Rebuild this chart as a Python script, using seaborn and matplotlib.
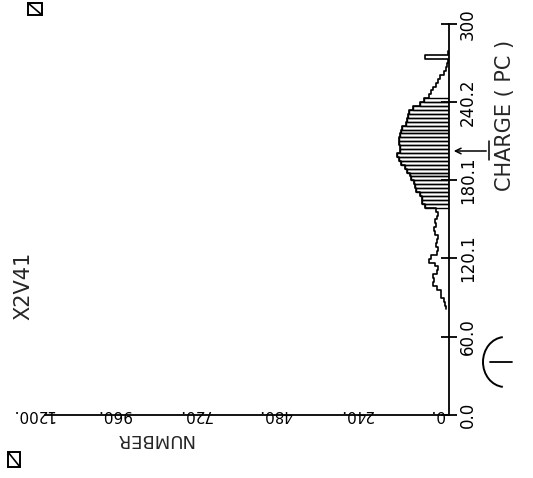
import numpy as np
import pandas as pd
import matplotlib
matplotlib.use("Agg")
import matplotlib.pyplot as plt
import seaborn as sns
from matplotlib import patches, lines, transforms

# ---------------- data ----------------
title_text = "X2V41"
number_label = "NUMBER"
charge_label = "CHARGE ( PC )"

charge_tick_pos = [0.0, 60.0, 120.1, 180.1, 240.2, 300.0]
charge_tick_lab = ["0.0", "60.0", "120.1", "180.1", "240.2", "300"]
number_tick_pos = [0, 240, 480, 720, 960, 1200]
number_tick_lab = ["0.", "240.", "480.", "720.", "960.", "1200."]

bin_width = 3.0
low_start = 81.0
low_counts = [9, 12, 15, 24, 24, 36, 48, 45, 48, 36, 33, 42, 60, 54,
              36, 33, 39, 36, 33, 42, 45, 39, 42, 36, 33, 39]
peak_counts = [72, 81, 81, 87, 99, 102, 105, 114, 117, 126, 132, 144, 150, 153,
               147, 147, 150, 150, 147, 144, 141, 129, 126, 123, 120, 108,
               87, 75]
tail_counts = [60, 54, 48, 40, 33, 26, 15, 9, 6, 4, 70, 3]

all_counts = low_counts + peak_counts + tail_counts
edges = low_start + bin_width * np.arange(len(all_counts) + 1)
centers = (edges[:-1] + edges[1:]) / 2
df = pd.DataFrame({"charge": centers, "count": all_counts})
n_low = len(low_counts)
n_peak = len(peak_counts)
peak_df = df.iloc[n_low:n_low + n_peak]
peak_edges = edges[n_low:n_low + n_peak + 1]

# ---------------- figure ----------------
sns.set_style("white")
plt.rcParams["font.family"] = ["DejaVu Sans"]
W, H = 533, 478
fig = plt.figure(figsize=(W / 100, H / 100), dpi=100)
fig.patch.set_facecolor("white")

L, R, B, T = 45, 449, 415, 24
ax = fig.add_axes([L / W, 1 - B / H, (R - L) / W, (B - T) / H])
ax.set_facecolor("white")

sns.histplot(data=df, y="charge", weights="count", bins=list(edges),
             element="step", fill=False, color="black", linewidth=1.2, ax=ax)
sns.histplot(data=peak_df, y="charge", weights="count", bins=list(peak_edges),
             element="bars", fill=False, color="black", linewidth=1.0, ax=ax)

ax.set_xlim(1200, 0)
ax.set_ylim(0, 300)
for s in ["top", "left"]:
    ax.spines[s].set_visible(False)
for s in ["bottom", "right"]:
    ax.spines[s].set_linewidth(1.3)
    ax.spines[s].set_color("black")

ax.yaxis.tick_right()
ax.set_yticks(charge_tick_pos)
ax.set_yticklabels(charge_tick_lab, rotation=90, va="center", ha="left",
                   fontsize=12)
ax.tick_params(axis="y", direction="inout", length=12, width=1.3, pad=1,
               colors="black")

ax.set_xticks(number_tick_pos)
ax.set_xticklabels(number_tick_lab, rotation=180, ha="center", va="bottom",
                   fontsize=11)
ax.tick_params(axis="x", direction="in", length=5, width=1.2, pad=5,
               colors="black")
off = transforms.ScaledTranslation(-12 / 100, 0, fig.dpi_scale_trans)
for lab in ax.get_xticklabels():
    lab.set_transform(lab.get_transform() + off)

ax.set_xlabel("")
ax.set_ylabel("")


def fx(x):
    return x / W


def fy(y):
    return 1 - y / H


fig.text(fx(23), fy(286), title_text, rotation=90, ha="center", va="center",
         fontsize=15)
fig.text(fx(154), fy(439), number_label, rotation=180, ha="center",
         va="center", fontsize=13)
fig.text(fx(505), fy(115), charge_label, rotation=90, ha="center",
         va="center", fontsize=15)

# pointer arrow drawn on the chart
ax.annotate("", xy=(fx(451), fy(151)), xycoords="figure fraction",
            xytext=(fx(489), fy(151)), textcoords="figure fraction",
            arrowprops=dict(arrowstyle="->", color="black", lw=1.1))
fig.add_artist(lines.Line2D([fx(489), fx(489)], [fy(141), fy(160)],
                            color="black", lw=1.1))

# small boxed marks on the sheet
for (x0, y0, w, h) in [(28, 3, 14, 12), (8, 452, 12, 15)]:
    fig.add_artist(patches.Rectangle((fx(x0), fy(y0 + h)), w / W, h / H,
                                     fill=False, lw=1.4, color="black",
                                     transform=fig.transFigure))
    fig.add_artist(lines.Line2D([fx(x0), fx(x0 + w)], [fy(y0), fy(y0 + h)],
                                color="black", lw=1.2))

# hand-drawn circled mark at lower right
pix = transforms.IdentityTransform()
fig.add_artist(patches.Arc((505, H - 362), 44, 50, theta1=95, theta2=265,
                           lw=1.4, color="black", transform=pix))
fig.add_artist(lines.Line2D([490, 512], [H - 362, H - 362], lw=1.3,
                            color="black", transform=pix))

fig.savefig("out.png", dpi=100, facecolor="white")
